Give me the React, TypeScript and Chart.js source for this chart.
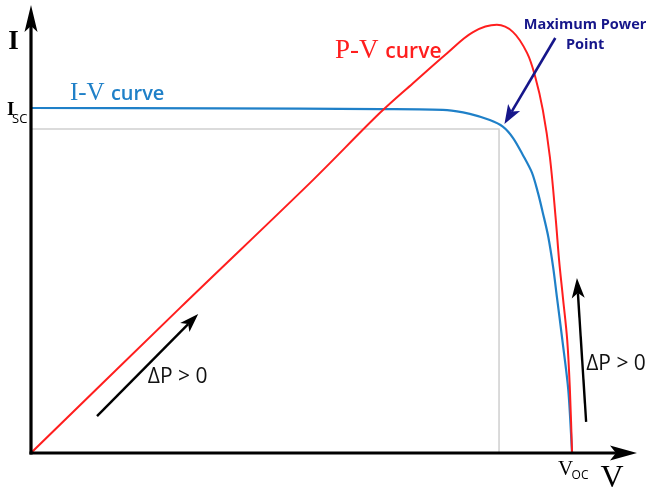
import React, { useEffect, useRef } from "react";
import { Chart, registerables } from "chart.js";

Chart.register(...registerables);

// Voltage normalised to Voc, current normalised to Isc, power scaled into the same frame
const V_IV = [0, 0.349, 0.645, 0.769, 0.811, 0.848, 0.872, 0.891, 0.909, 0.926, 0.937, 0.946, 0.956, 0.965, 0.972, 0.982, 0.993, 1.0];
const I_IV = [1.0, 0.999, 0.997, 0.994, 0.983, 0.965, 0.946, 0.913, 0.864, 0.812, 0.754, 0.696, 0.627, 0.539, 0.452, 0.328, 0.183, 0];

const V_PV = [0, 0.275, 0.521, 0.645, 0.706, 0.769, 0.817, 0.861, 0.891, 0.917, 0.932, 0.946, 0.959, 0.97, 0.976, 0.983, 0.991, 0.996, 1.0];
const P_PV = [0, 0.42, 0.791, 0.986, 1.072, 1.159, 1.22, 1.241, 1.22, 1.159, 1.09, 0.994, 0.858, 0.675, 0.559, 0.452, 0.328, 0.183, 0];

const V_MPP = 0.865;
const I_MPP = 0.939;

const X_MAX = 1.12;
const Y_MAX = 1.2986;

const SERIF = "'Liberation Serif', 'DejaVu Serif', serif";
const SANS = "'Open Sans', 'DejaVu Sans', sans-serif";

const BLUE = "#1f80c8";
const RED = "#ff1e1e";
const NAVY = "#16168a";

function head(ctx: CanvasRenderingContext2D, x1: number, y1: number, x2: number, y2: number, len: number, hw: number, notch: number, lw: number, color: string) {
  const a = Math.atan2(y2 - y1, x2 - x1);
  const dx = Math.cos(a), dy = Math.sin(a);
  const px = -dy, py = dx;
  ctx.save();
  ctx.strokeStyle = color;
  ctx.fillStyle = color;
  ctx.lineWidth = lw;
  ctx.lineCap = "butt";
  ctx.beginPath();
  ctx.moveTo(x1, y1);
  ctx.lineTo(x2 - dx * len * notch, y2 - dy * len * notch);
  ctx.stroke();
  ctx.beginPath();
  ctx.moveTo(x2, y2);
  ctx.lineTo(x2 - dx * len + px * hw, y2 - dy * len + py * hw);
  ctx.lineTo(x2 - dx * len * notch, y2 - dy * len * notch);
  ctx.lineTo(x2 - dx * len - px * hw, y2 - dy * len - py * hw);
  ctx.closePath();
  ctx.fill();
  ctx.restore();
}

const decorPlugin = {
  id: "decor",
  afterDatasetsDraw(chart: any) {
    const ctx: CanvasRenderingContext2D = chart.ctx;
    const xs = chart.scales.x, ys = chart.scales.y;
    const P = (x: number, y: number) => [xs.getPixelForValue(x), ys.getPixelForValue(y)];
    const { left, right, top, bottom } = chart.chartArea;

    // axes with arrows
    head(ctx, left - 1.5, bottom, right, bottom, 27, 7.5, 0.78, 3.2, "#000");
    head(ctx, left, bottom + 1.5, left, top, 27, 6.5, 0.78, 3.2, "#000");

    // delta P arrows
    let a = P(0.122, 0.107), b = P(0.309, 0.403);
    head(ctx, a[0], a[1], b[0], b[1], 19, 6.5, 0.75, 2.4, "#000");
    a = P(1.026, 0.09); b = P(1.009, 0.507);
    head(ctx, a[0], a[1], b[0], b[1], 20, 6.5, 0.75, 2.4, "#000");
    // MPP arrow
    a = P(0.969, 1.203); b = P(0.875, 0.954);
    head(ctx, a[0], a[1], b[0], b[1], 19, 7, 0.75, 2.6, NAVY);

    ctx.save();
    ctx.textBaseline = "alphabetic";
    // axis titles
    ctx.fillStyle = "#000";
    ctx.textAlign = "center";
    ctx.font = `bold 27px ${SERIF}`;
    ctx.fillText("I", left - 17.5, top + 44);
    ctx.font = `32px ${SERIF}`;
    ctx.fillText("V", right - 25, bottom + 34);

    // Isc
    ctx.textAlign = "left";
    let q = P(0, 1.0);
    ctx.font = `bold 19px ${SERIF}`;
    ctx.fillText("I", q[0] - 24, q[1] + 7);
    ctx.font = `13px ${SANS}`;
    ctx.fillText("SC", q[0] - 19, q[1] + 15);
    // Voc
    q = P(1.0, 0);
    ctx.font = `21px ${SERIF}`;
    ctx.fillText("V", q[0] - 14, q[1] + 22);
    ctx.font = `12px ${SANS}`;
    ctx.fillText("OC", q[0] - 0.5, q[1] + 26);

    // curve labels
    q = P(0.072, 1.023);
    ctx.fillStyle = BLUE;
    ctx.font = `25px ${SERIF}`;
    ctx.fillText("I-V", q[0], q[1]);
    let w = ctx.measureText("I-V ").width;
    ctx.font = `600 20px ${SANS}`;
    ctx.fillText("curve", q[0] + w, q[1]);

    q = P(0.562, 1.145);
    ctx.fillStyle = RED;
    ctx.font = `27px ${SERIF}`;
    ctx.fillText("P-V", q[0], q[1]);
    w = ctx.measureText("P-V ").width;
    ctx.font = `600 21px ${SANS}`;
    ctx.fillText("curve", q[0] + w, q[1]);

    // MPP label
    ctx.fillStyle = NAVY;
    ctx.textAlign = "center";
    ctx.font = `bold 14.5px ${SANS}`;
    q = P(1.024, 1.229);
    ctx.fillText("Maximum Power", q[0], q[1]);
    q = P(1.024, 1.171);
    ctx.fillText("Point", q[0], q[1]);

    // delta P labels
    ctx.fillStyle = "#111";
    ctx.textAlign = "left";
    ctx.font = `21px ${SANS}`;
    q = P(0.216, 0.203);
    ctx.fillText("\u0394P > 0", q[0], q[1]);
    q = P(1.026, 0.241);
    ctx.fillText("\u0394P > 0", q[0], q[1]);
    ctx.restore();
  },
};

export default function App() {
  const ref = useRef<HTMLCanvasElement | null>(null);
  useEffect(() => {
    document.body.style.margin = "0";
    if (!ref.current) return;
    const chart = new Chart(ref.current, {
      type: "line",
      data: {
        datasets: [
          {
            label: "P-V curve",
            data: V_PV.map((v, i) => ({ x: v, y: P_PV[i] })),
            borderColor: RED,
            borderWidth: 2,
            pointRadius: 0,
            tension: 0.35,
            order: 1,
          },
          {
            label: "I-V curve",
            data: V_IV.map((v, i) => ({ x: v, y: I_IV[i] })),
            borderColor: BLUE,
            borderWidth: 2.2,
            pointRadius: 0,
            tension: 0.3,
            order: 2,
          },
          {
            label: "MPP",
            data: [
              { x: 0, y: I_MPP },
              { x: V_MPP, y: I_MPP },
              { x: V_MPP, y: 0 },
            ],
            borderColor: "#cfcfcf",
            borderWidth: 1.5,
            pointRadius: 0,
            tension: 0,
            order: 3,
          },
        ],
      },
      options: {
        responsive: false,
        animation: false,
        events: [],
        layout: { padding: { left: 31, right: 14, top: 5, bottom: 37 } },
        plugins: { legend: { display: false }, tooltip: { enabled: false } },
        scales: {
          x: { type: "linear", min: 0, max: X_MAX, display: false },
          y: { type: "linear", min: 0, max: Y_MAX, display: false },
        },
      },
      plugins: [decorPlugin],
    });
    return () => chart.destroy();
  }, []);
  return (
    <div style={{ width: 651, height: 490, background: "#fff" }}>
      <canvas ref={ref} width={651} height={490} style={{ display: "block", width: 651, height: 490 }} />
    </div>
  );
}
